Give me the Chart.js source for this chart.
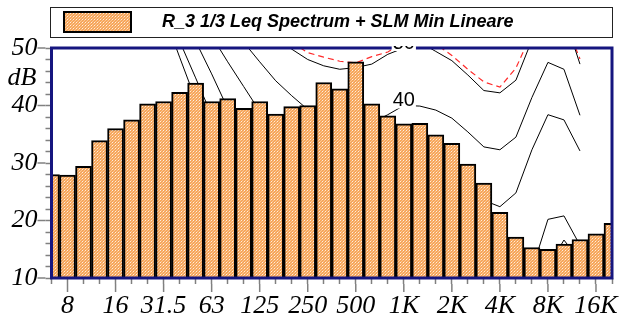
<!DOCTYPE html>
<html>
<head>
<meta charset="UTF-8">
<script src="https://cdn.jsdelivr.net/npm/chart.js@4.4.0/dist/chart.umd.min.js"></script>
<style>
*{margin:0;padding:0}
body{background:#fff;width:619px;height:320px;overflow:hidden}
</style>
</head>
<body>
<canvas id="c" width="619" height="320"></canvas>
<script>
// 1/3 octave bands
const bands = ["6.3","8","10","12.5","16","20","25","31.5","40","50","63","80","100","125","160","200","250","315","400","500","630","800","1K","1.25K","1.6K","2K","2.5K","3.15K","4K","5K","6.3K","8K","10K","12.5K","16K","20K"];
const xMajor = ["8","16","31.5","63","125","250","500","1K","2K","4K","8K","16K"];
const yMajor = [10, 20, 30, 40, 50];

// Leq spectrum (dB)
const leq = [28.0,27.9,29.4,33.9,36.0,37.5,40.3,40.7,42.3,43.9,40.7,41.2,39.5,40.7,38.5,39.8,40.0,44.0,42.9,47.6,40.3,38.2,36.8,36.9,34.9,33.4,29.8,26.5,21.4,17.1,15.3,15.0,15.9,16.7,17.7,19.5];

// isophone curves (only the parts that show)
const _ = null;
const iso0  = [_,_,_,_,_,_,_,56,48.4,41,35,_,_,_,_,_,_,_,_,_,_,_,_,_,_,_,_,_,_,_,_,_,_,_,_,_];
const iso10 = [_,_,_,_,_,_,_,_,51.2,44.8,38.3,_,_,_,_,_,_,_,_,_,_,_,_,_,_,_,_,_,_,_,_,12,16.6,13,_,_];
const iso20 = [_,_,_,_,_,_,_,_,_,51.2,45.5,39.5,_,_,_,_,_,_,_,_,_,_,_,_,_,_,_,_,_,_,11.4,20.2,20.8,15.7,_,_];
const iso30 = [_,_,_,_,_,_,_,_,_,_,52.1,47.6,43.3,39.0,_,_,_,_,_,_,_,_,_,_,_,_,_,23.5,22.4,24.8,32.3,38.4,37.5,32.1,_,_];
const iso40 = [_,_,_,_,_,_,_,_,_,_,_,_,51.0,47.6,44.3,41.7,39.3,39.3,38.5,37.5,37.0,38.4,40.0,39.9,39.2,37.8,35.4,32.8,32.3,34.5,41.4,47.5,46.3,38.3,_,_];
const iso50 = [_,_,_,_,_,_,_,_,_,_,_,_,_,_,51.5,49.8,48.0,46.9,46.3,46.6,47.2,48.9,50.0,51.0,49.4,47.8,45.3,42.6,42.2,44.4,51.4,58,55.7,47.2,_,_];
const slmMin = [_,_,_,_,_,_,_,_,_,_,_,_,_,_,_,51.0,49.2,48.4,47.7,47.4,48.5,49.3,51.0,52.0,50.7,48.7,46.3,44.1,43.2,46.5,52.7,56,55,48.1,_,_];

const isoLabels = ["40", "50"];
const isoLabelValues = [40, 50];

const serif = "'Liberation Serif','Times New Roman',serif";
const sans = "'Liberation Sans',Arial,sans-serif";
const tickColor = "#808080";
const navy = "#16167f";

const ctx = document.getElementById("c").getContext("2d");

function dotPattern() {
  const t = document.createElement("canvas");
  t.width = 3; t.height = 3;
  const g = t.getContext("2d");
  g.fillStyle = "#f6a65c"; g.fillRect(0, 0, 3, 3);
  g.fillStyle = "#ffeedd"; g.fillRect(1, 1, 1, 1);
  g.fillStyle = "#fbc896"; g.fillRect(0, 2, 1, 1); g.fillRect(2, 0, 1, 1);
  return ctx.createPattern(t, "repeat");
}
const fill = dotPattern();

function isoSet(label, data) {
  return { type: "line", label, data, borderColor: "#000", borderWidth: 1, pointRadius: 0,
    tension: 0, spanGaps: false, fill: false, order: 1 };
}

const line = (x1, y1, x2, y2) => { ctx.beginPath(); ctx.moveTo(x1, y1); ctx.lineTo(x2, y2); ctx.stroke(); };

const extras = {
  id: "extras",
  afterDatasetsDraw(chart) {
    const a = chart.chartArea, xS = chart.scales.x, yS = chart.scales.y;
    ctx.save();
    ctx.strokeStyle = navy; ctx.lineWidth = 3;
    ctx.strokeRect(a.left, a.top, a.right - a.left, a.bottom - a.top);
    // contour labels
    ctx.beginPath(); ctx.rect(a.left, a.top - 2, a.right - a.left, a.bottom - a.top + 2); ctx.clip();
    ctx.font = "20px " + sans;
    ctx.textAlign = "center"; ctx.textBaseline = "middle";
    isoLabels.forEach((t, k) => {
      const x = xS.getPixelForValue(bands.indexOf("1K"));
      const y = yS.getPixelForValue(isoLabelValues[k]) - 6;
      const w = ctx.measureText(t).width + 2;
      ctx.fillStyle = "#fff"; ctx.fillRect(x - w / 2, y - 9, w, 18);
      ctx.fillStyle = "#000"; ctx.fillText(t, x, y + 1);
    });
    ctx.restore();
  },
  afterDraw(chart) {
    const a = chart.chartArea, xS = chart.scales.x, yS = chart.scales.y;
    ctx.save();
    ctx.strokeStyle = tickColor; ctx.lineWidth = 1.5;
    yMajor.forEach(v => { const y = yS.getPixelForValue(v); line(a.left - 14, y, a.left - 6, y); });
    xMajor.forEach(l => { const x = xS.getPixelForValue(bands.indexOf(l)); line(x, a.bottom + 6, x, a.bottom + 14); });
    // unit
    ctx.fillStyle = "#000"; ctx.font = "italic 26px " + serif;
    ctx.textAlign = "right"; ctx.textBaseline = "middle";
    ctx.fillText("dB", a.left - 15, yS.getPixelForValue(45) + 1);
    // legend
    ctx.strokeStyle = "#222"; ctx.lineWidth = 1;
    ctx.strokeRect(50.5, 7.5, 562, 30);
    ctx.fillStyle = fill; ctx.fillRect(64, 12, 67, 20);
    ctx.strokeStyle = "#000"; ctx.lineWidth = 2; ctx.strokeRect(64, 12, 67, 20);
    ctx.fillStyle = "#000"; ctx.font = "italic bold 18px " + sans;
    ctx.textAlign = "left";
    ctx.fillText(chart.data.datasets[0].label, 162, 22.5);
    ctx.restore();
  }
};

new Chart(ctx, {
  type: "bar",
  data: {
    labels: bands,
    datasets: [
      { label: "R_3 1/3 Leq Spectrum + SLM Min Lineare", data: leq, backgroundColor: fill,
        borderColor: "#000", borderWidth: 2, barPercentage: 1, categoryPercentage: 1, order: 0 },
      isoSet("0", iso0), isoSet("10", iso10), isoSet("20", iso20), isoSet("30", iso30),
      isoSet("40", iso40), isoSet("50", iso50),
      { type: "line", label: "SLM Min Lineare", data: slmMin, borderColor: "#ff2a2a", borderWidth: 1.2,
        borderDash: [6, 4], pointRadius: 0, tension: 0, fill: false, order: 1 }
    ]
  },
  options: {
    responsive: false, animation: false, devicePixelRatio: 1,
    layout: { padding: { left: 0, right: 5, top: 48, bottom: 0 } },
    plugins: { legend: { display: false }, tooltip: { enabled: false } },
    scales: {
      x: {
        offset: false,
        grid: { offset: false, drawOnChartArea: false, tickLength: 6, tickColor: tickColor, tickWidth: 1.5 },
        border: { display: false },
        ticks: { autoSkip: false, maxRotation: 0, minRotation: 0, padding: 7, color: "#000",
          font: { family: serif, size: 26, style: "italic" },
          callback: (v, i) => xMajor.includes(bands[i]) ? bands[i] : "" },
        afterFit: s => { s.height = 42; }
      },
      y: {
        min: 10, max: 50,
        grid: { drawOnChartArea: false, tickLength: 6, tickColor: tickColor, tickWidth: 1.5 },
        border: { display: false },
        ticks: { stepSize: 2, autoSkip: false, padding: 8, color: "#000",
          font: { family: serif, size: 26, style: "italic" },
          callback: v => yMajor.includes(v) ? String(v) : "" },
        afterFit: s => { s.width = 51.5; }
      }
    }
  },
  plugins: [extras]
});
</script>
</body>
</html>
